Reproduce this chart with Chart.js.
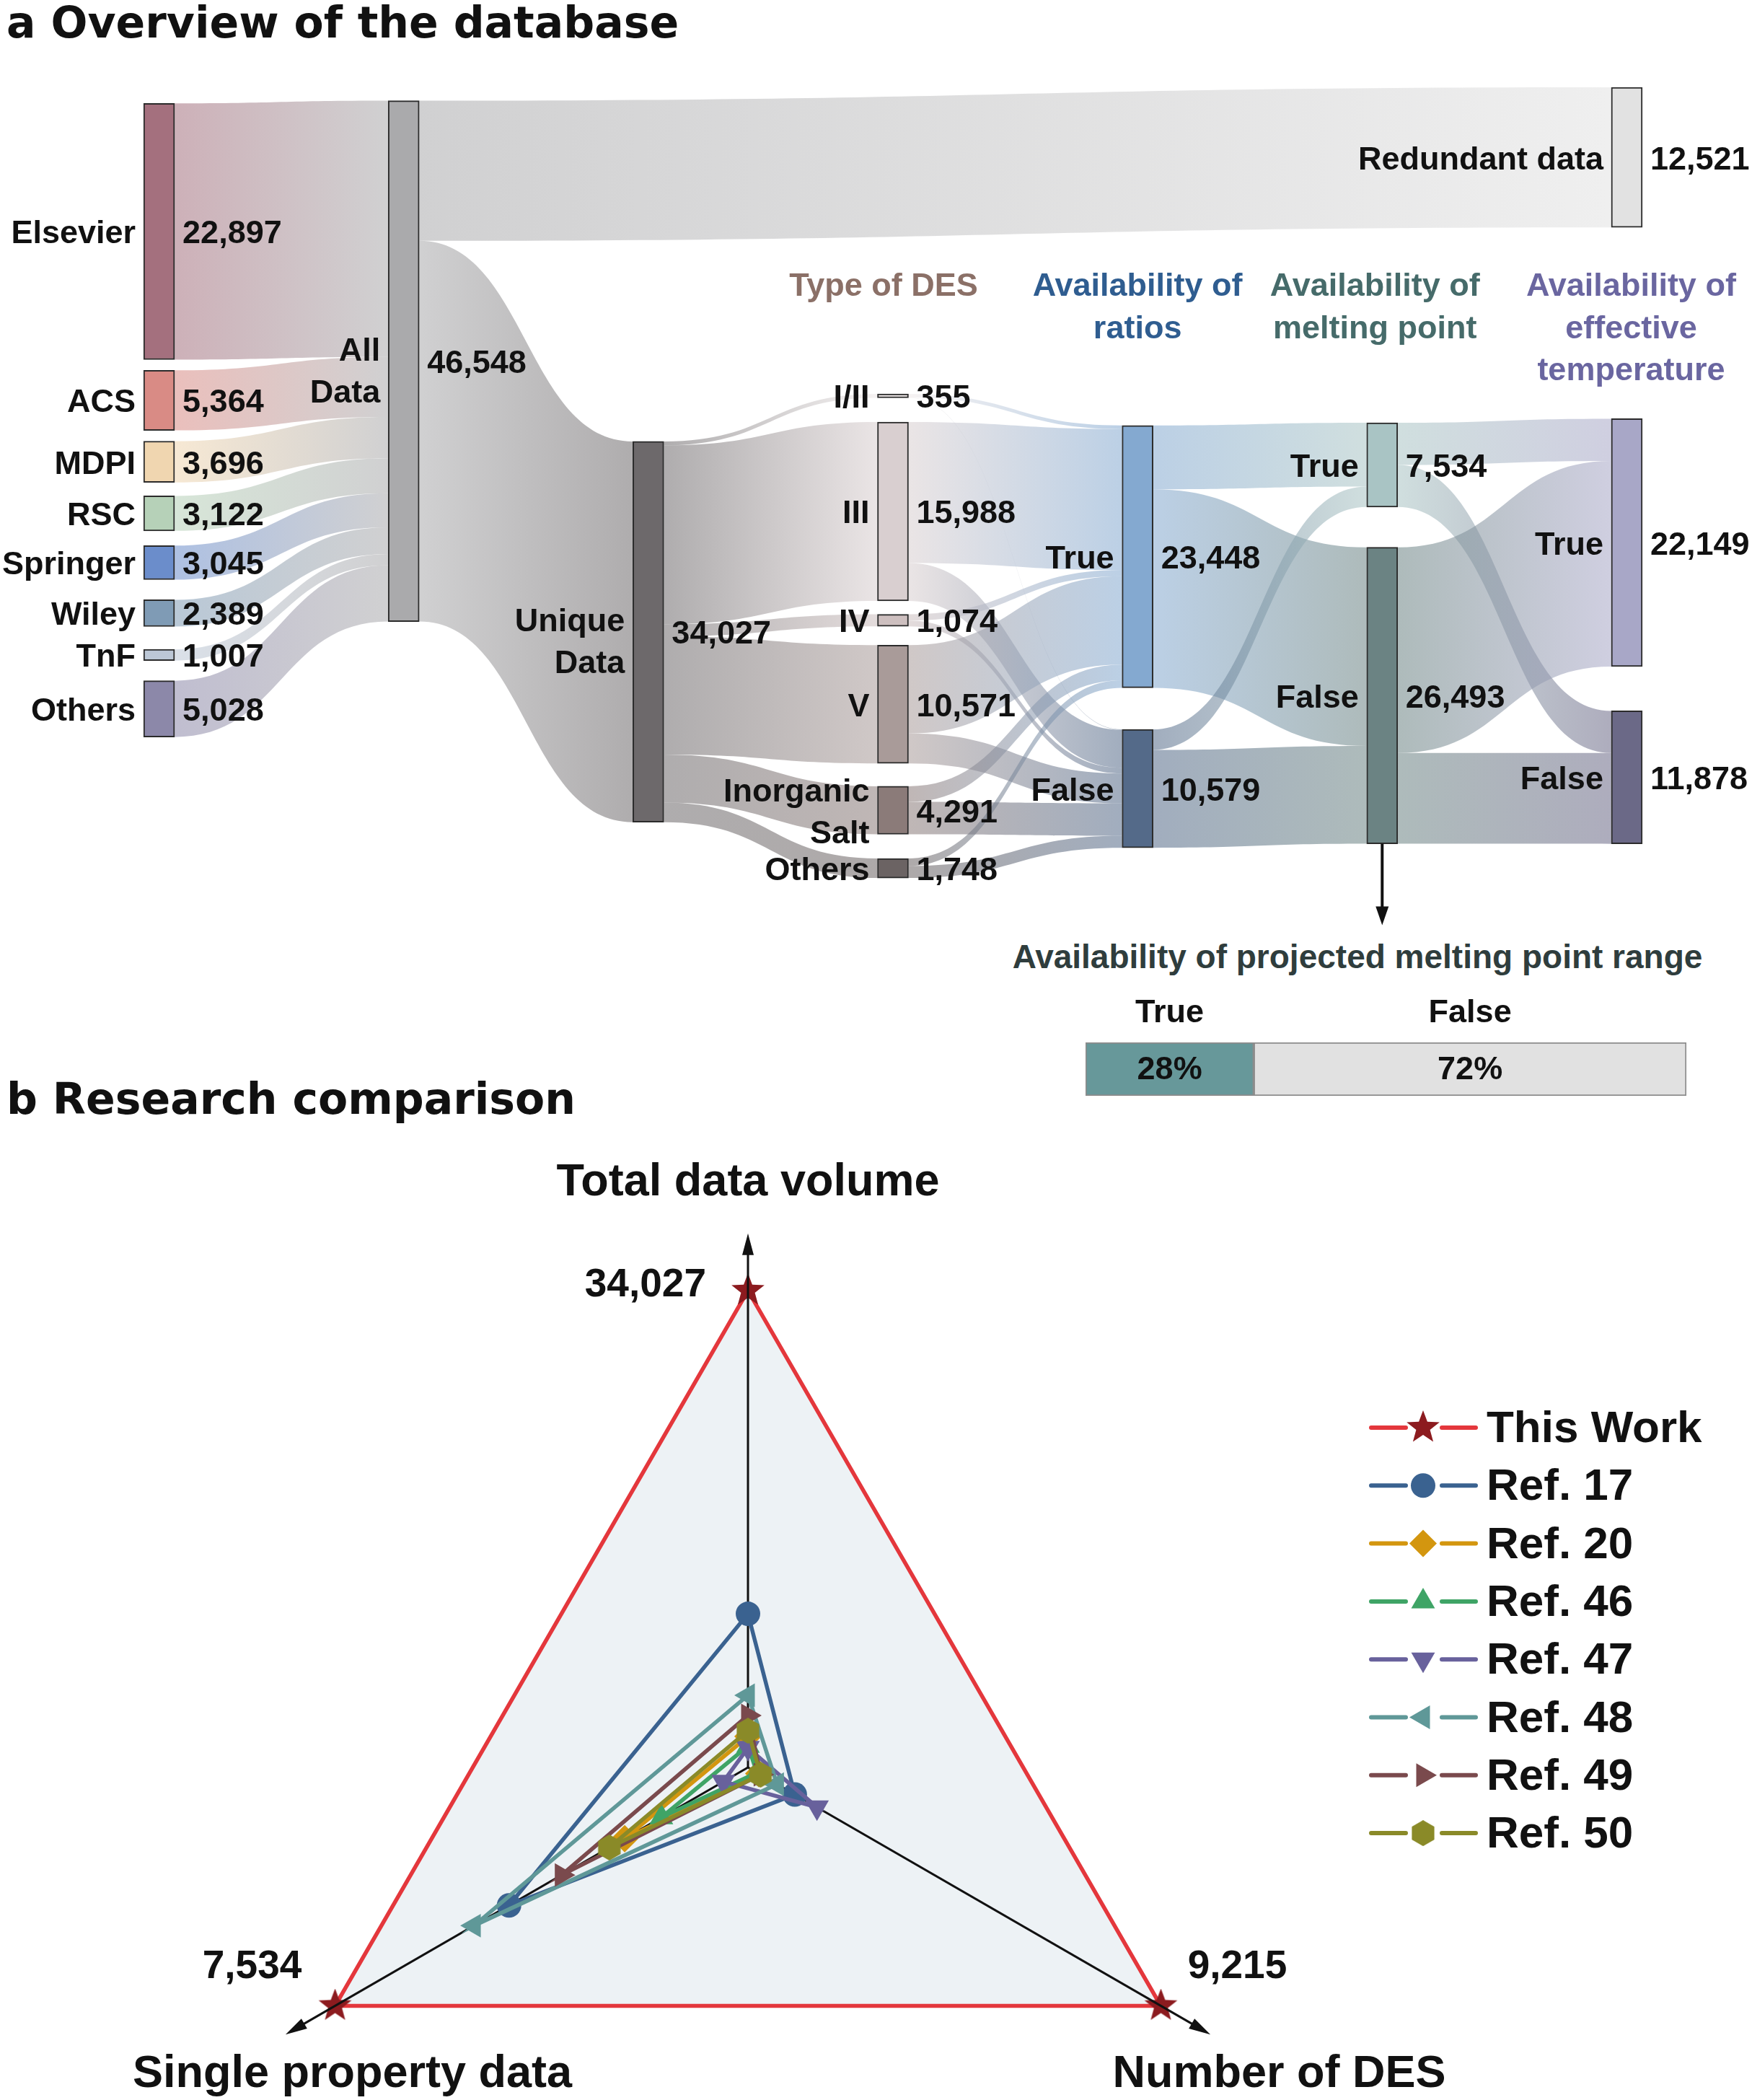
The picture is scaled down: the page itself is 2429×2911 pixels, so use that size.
<!DOCTYPE html>
<html>
<head>
<meta charset="utf-8">
<script src="https://cdn.jsdelivr.net/npm/chart.js@4.4.1/dist/chart.umd.min.js"></script>
<style>
  html, body { margin: 0; padding: 0; background: #fff; }
  body { width: 2429px; height: 2911px; overflow: hidden; position: relative; font-family: "Liberation Sans", Arial, sans-serif; }
  canvas { position: absolute; }
  .panel-title { position: absolute; left: 9px; font-family: "DejaVu Sans", sans-serif; font-weight: bold; font-size: 60px; line-height: 60px; color: #111; white-space: nowrap; }
  #projTitle { position: absolute; font-weight: bold; font-size: 46px; line-height: 50px; color: #2f3d3d; white-space: nowrap; transform: translateX(-50%); }
</style>
</head>
<body>
<div class="panel-title" style="top:1px">a Overview of the database</div>
<canvas id="sankeyChart" width="2429" height="1300" style="left:0;top:0"></canvas>
<div id="projTitle" style="left:1882px;top:1301px">Availability of projected melting point range</div>
<canvas id="rangeChart" width="835" height="140" style="left:1504px;top:1380px"></canvas>
<div class="panel-title" style="top:1493px">b Research comparison</div>
<canvas id="radarChart" width="2429" height="1581" style="left:0;top:1530px"></canvas>
<script>
// ---- panel a: database overview ----
const publishers = ['Elsevier', 'ACS', 'MDPI', 'RSC', 'Springer', 'Wiley', 'TnF', 'Others'];
const publisherCounts = [22897, 5364, 3696, 3122, 3045, 2389, 1007, 5028];
const allDataCount = 46548;
const dedupLabels = ['Redundant data', 'Unique\nData'];
const dedupCounts = [12521, 34027];
const desTypes = ['I/II', 'III', 'IV', 'V', 'Inorganic\nSalt', 'Others'];
const desCounts = [355, 15988, 1074, 10571, 4291, 1748];
const desToRatioTrue = [320, 12600, 560, 7900, 1400, 668];
const desToRatioFalse = [35, 3388, 514, 2671, 2891, 1080];
const flagLabels = ['True', 'False'];
const ratioCounts = [23448, 10579];
const ratioToMelt = [[5700, 17748], [1834, 8745]];   // [from True / False][to True, to False]
const meltCounts = [7534, 26493];
const meltToEff = [[3770, 3764], [18379, 8114]];
const effCounts = [22149, 11878];
const rangeLabels = ['True', 'False'];
const rangeShares = [28, 72];

// ---- panel b: research comparison ----
const radarAxes = ['Total data volume', 'Number of DES', 'Single property data'];
const axisMax = [34027, 9215, 7534];
const studies = ['This Work', 'Ref. 17', 'Ref. 20', 'Ref. 46', 'Ref. 47', 'Ref. 48', 'Ref. 49', 'Ref. 50'];
const thisWork = [34027, 9215, 7534];
const ref17 = [10960, 1045, 4360];
const ref20 = [2210, 240, 2250];
const ref46 = [1530, 200, 1580];
const ref47 = [1400, 1540, 450];
const ref48 = [5150, 650, 5000];
const ref49 = [3710, 280, 3400];
const ref50 = [2620, 280, 2530];

// colours
const publisherColors = ['#a4707e', '#d98b85', '#f0d6b0', '#b6d1b8', '#6b8dcb', '#7f9bb5', '#bcc7d6', '#8c88a9'];
const desColors = ['#efe9e9', '#d9cfd0', '#cdbfbf', '#a99b99', '#8b7b79', '#6b6363'];
const columnHeaders = [
  { col: 3, dx: -13, lines: ['Type of DES'], color: '#8b7067' },
  { col: 4, dx: 0, lines: ['Availability of', 'ratios'], color: '#2f5d90' },
  { col: 5, dx: -10, lines: ['Availability of', 'melting point'], color: '#466b6a' },
  { col: 6, dx: 6, lines: ['Availability of', 'effective', 'temperature'], color: '#6a66a0' }
];

// sankey layout: top of each column and gaps between its nodes (value units)
const colTop = [1440, 1200, 31650, 27400, 30220, 29980, 0];
const colGaps = [[960, 960, 1200, 1320, 1800, 2040, 1800], [], [], [2160, 1200, 1680, 2040, 2160], [3720], [3600], [17100, 3960]];

const fmt = v => v.toLocaleString('en-US');
const fade = (hex, a) => {
  const n = parseInt(hex.slice(1), 16);
  return 'rgba(' + (n >> 16) + ',' + ((n >> 8) & 255) + ',' + (n & 255) + ',' + a + ')';
};
const FONT = '"Liberation Sans", Arial, sans-serif';

// build nodes and links
const nodes = [], links = [], byId = {};
function addNode(id, col, label, value, color) {
  const n = { id, col, label, value, color, index: nodes.length, out: [], inc: [] };
  nodes.push(n); byId[id] = n;
}
function addLink(s, t, v) {
  const l = { s: byId[s], t: byId[t], v };
  links.push(l); l.s.out.push(l); l.t.inc.push(l);
}
publishers.forEach((p, i) => addNode('pub' + i, 0, p, publisherCounts[i], publisherColors[i]));
addNode('all', 1, 'All\nData', allDataCount, '#aaaaac');
addNode('red', 6, dedupLabels[0], dedupCounts[0], '#e2e2e2');
addNode('uni', 2, dedupLabels[1], dedupCounts[1], '#6d696b');
desTypes.forEach((d, i) => addNode('des' + i, 3, d, desCounts[i], desColors[i]));
addNode('ratio0', 4, flagLabels[0], ratioCounts[0], '#84a9d0');
addNode('ratio1', 4, flagLabels[1], ratioCounts[1], '#546a89');
addNode('melt0', 5, flagLabels[0], meltCounts[0], '#a9c4c4');
addNode('melt1', 5, flagLabels[1], meltCounts[1], '#6b8383');
addNode('eff0', 6, flagLabels[0], effCounts[0], '#a8a7c7');
addNode('eff1', 6, flagLabels[1], effCounts[1], '#6b6987');

publishers.forEach((p, i) => addLink('pub' + i, 'all', publisherCounts[i]));
addLink('all', 'red', dedupCounts[0]);
addLink('all', 'uni', dedupCounts[1]);
desTypes.forEach((d, i) => addLink('uni', 'des' + i, desCounts[i]));
desTypes.forEach((d, i) => {
  addLink('des' + i, 'ratio0', desToRatioTrue[i]);
  addLink('des' + i, 'ratio1', desToRatioFalse[i]);
});
[0, 1].forEach(a => [0, 1].forEach(b => addLink('ratio' + a, 'melt' + b, ratioToMelt[a][b])));
[0, 1].forEach(a => [0, 1].forEach(b => addLink('melt' + a, 'eff' + b, meltToEff[a][b])));

// stack nodes in their columns
for (let c = 0; c < 7; c++) {
  let y = colTop[c], k = 0;
  nodes.filter(n => n.col === c).forEach(n => {
    n.y0 = y; y += n.value + (colGaps[c][k++] || 0);
  });
}
nodes.forEach(n => {
  let o = 0;
  n.out.sort((a, b) => a.t.y0 - b.t.y0).forEach(l => { l.sOff = o; o += l.v; });
  o = 0;
  n.inc.sort((a, b) => a.s.y0 - b.s.y0).forEach(l => { l.tOff = o; o += l.v; });
});

function drawLines(ctx, text, x, y, gap) {
  const lines = text.split('\n');
  lines.forEach((ln, i) => ctx.fillText(ln, x, y + (i - (lines.length - 1) / 2) * gap));
}

const sankeyLinks = {
  id: 'sankeyLinks',
  beforeDatasetsDraw(chart) {
    const ctx = chart.ctx, y = chart.scales.y;
    ctx.save();
    links.forEach(l => {
      const a = chart.getDatasetMeta(l.s.index).data[0];
      const b = chart.getDatasetMeta(l.t.index).data[0];
      const x0 = a.x + a.width / 2, x1 = b.x - b.width / 2, xm = (x0 + x1) / 2;
      const s0 = y.getPixelForValue(l.s.y0 + l.sOff), s1 = y.getPixelForValue(l.s.y0 + l.sOff + l.v);
      const t0 = y.getPixelForValue(l.t.y0 + l.tOff), t1 = y.getPixelForValue(l.t.y0 + l.tOff + l.v);
      const g = ctx.createLinearGradient(x0, 0, x1, 0);
      g.addColorStop(0, fade(l.s.color, 0.55));
      g.addColorStop(1, fade(l.t.color, 0.55));
      ctx.fillStyle = g;
      ctx.beginPath();
      ctx.moveTo(x0, s0);
      ctx.bezierCurveTo(xm, s0, xm, t0, x1, t0);
      ctx.lineTo(x1, t1);
      ctx.bezierCurveTo(xm, t1, xm, s1, x0, s1);
      ctx.closePath();
      ctx.fill();
    });
    ctx.restore();
  },
  afterDatasetsDraw(chart) {
    const ctx = chart.ctx, y = chart.scales.y, x = chart.scales.x;
    ctx.save();
    ctx.font = 'bold 45px ' + FONT;
    ctx.fillStyle = '#111';
    ctx.textBaseline = 'middle';
    nodes.forEach(n => {
      const el = chart.getDatasetMeta(n.index).data[0];
      const cy = (y.getPixelForValue(n.y0) + y.getPixelForValue(n.y0 + n.value)) / 2 + 4;
      // the two big nodes carry their two-line names a little low
      const lift = n.value > 30000 && n.label.includes('\n') ? 12 : 0;
      ctx.textAlign = 'right';
      drawLines(ctx, n.label, el.x - el.width / 2 - 11, cy + lift, 58);
      ctx.textAlign = 'left';
      ctx.fillText(fmt(n.value), el.x + el.width / 2 + 11, cy);
    });
    ctx.textAlign = 'center';
    columnHeaders.forEach(h => {
      ctx.fillStyle = h.color;
      h.lines.forEach((ln, i) => ctx.fillText(ln, x.getPixelForValue(h.col) + h.dx, 398 + i * 58.5));
    });
    // arrow from the melting point "False" node to the range bar
    const m = byId.melt1, el = chart.getDatasetMeta(m.index).data[0];
    const top = y.getPixelForValue(m.y0 + m.value), tip = top + 113;
    ctx.strokeStyle = '#111'; ctx.fillStyle = '#111'; ctx.lineWidth = 4;
    ctx.beginPath(); ctx.moveTo(el.x, top); ctx.lineTo(el.x, tip - 20); ctx.stroke();
    ctx.beginPath(); ctx.moveTo(el.x - 9, tip - 26); ctx.lineTo(el.x + 9, tip - 26); ctx.lineTo(el.x, tip); ctx.closePath(); ctx.fill();
    ctx.restore();
  }
};

new Chart(document.getElementById('sankeyChart'), {
  type: 'bar',
  data: {
    labels: ['c0', 'c1', 'c2', 'c3', 'c4', 'c5', 'c6'],
    datasets: nodes.map(n => ({
      label: n.label,
      data: [{ x: 'c' + n.col, y: [n.y0, n.y0 + n.value] }],
      backgroundColor: n.color
    }))
  },
  options: {
    responsive: false, animation: false, devicePixelRatio: 1,
    layout: { padding: { left: 51, right: 4, top: 121, bottom: 70 } },
    plugins: { legend: { display: false }, tooltip: { enabled: false } },
    datasets: { bar: { grouped: false, barThickness: 43, borderSkipped: false, borderWidth: 2, borderColor: '#2b2b2b' } },
    scales: {
      x: { type: 'category', offset: true, display: false },
      y: { type: 'linear', reverse: true, min: 0, max: 71500, display: false }
    }
  },
  plugins: [sankeyLinks]
});

// projected melting point range bar
const rangeText = {
  id: 'rangeText',
  afterDatasetsDraw(chart) {
    const ctx = chart.ctx;
    ctx.save();
    ctx.font = 'bold 45px ' + FONT;
    ctx.fillStyle = '#111';
    ctx.textAlign = 'center'; ctx.textBaseline = 'middle';
    chart.data.datasets.forEach((ds, i) => {
      const el = chart.getDatasetMeta(i).data[0];
      const cx = (el.x + el.base) / 2;
      ctx.fillText(ds.label, cx, chart.chartArea.top - 40);
      ctx.fillText(ds.data[0] + '%', cx, el.y + 2);
    });
    ctx.restore();
  }
};
new Chart(document.getElementById('rangeChart'), {
  type: 'bar',
  data: {
    labels: ['range'],
    datasets: rangeLabels.map((l, i) => ({
      label: l, data: [rangeShares[i]],
      backgroundColor: ['#67989a', '#e1e1e1'][i],
      borderColor: '#8c8c8c', borderWidth: 2, borderSkipped: false
    }))
  },
  options: {
    indexAxis: 'y', responsive: false, animation: false, devicePixelRatio: 1,
    layout: { padding: { top: 65, left: 1, right: 1, bottom: 1 } },
    datasets: { bar: { barPercentage: 1, categoryPercentage: 1 } },
    plugins: { legend: { display: false }, tooltip: { enabled: false } },
    scales: {
      x: { stacked: true, min: 0, max: 100, display: false },
      y: { stacked: true, display: false }
    }
  },
  plugins: [rangeText]
});

// ---- radar ----
function starImage(r, color) {
  const c = document.createElement('canvas'); c.width = c.height = 2 * r;
  const g = c.getContext('2d'); g.fillStyle = color; g.beginPath();
  for (let k = 0; k < 10; k++) {
    const rad = k % 2 ? r * 0.42 : r, a = -Math.PI / 2 + k * Math.PI / 5;
    g.lineTo(r + rad * Math.cos(a), r + rad * Math.sin(a));
  }
  g.closePath(); g.fill();
  return c;
}
function hexImage(r, color) {
  const c = document.createElement('canvas'); c.width = c.height = 2 * r;
  const g = c.getContext('2d'); g.fillStyle = color; g.beginPath();
  for (let k = 0; k < 6; k++) {
    const a = -Math.PI / 2 + k * Math.PI / 3;
    g.lineTo(r + r * Math.cos(a), r + r * Math.sin(a));
  }
  g.closePath(); g.fill();
  return c;
}
const studyValues = [thisWork, ref17, ref20, ref46, ref47, ref48, ref49, ref50];
const studyStyles = [
  { color: '#e4373c', marker: '#8c1b1f', style: starImage(24, '#8c1b1f'), radius: 24, rotation: 0 },
  { color: '#3a6290', marker: '#3a6290', style: 'circle', radius: 17, rotation: 0 },
  { color: '#d3960f', marker: '#d3960f', style: 'rectRot', radius: 19, rotation: 0 },
  { color: '#3fa466', marker: '#3fa466', style: 'triangle', radius: 19, rotation: 0 },
  { color: '#68619c', marker: '#68619c', style: 'triangle', radius: 19, rotation: 180 },
  { color: '#5f9898', marker: '#5f9898', style: 'triangle', radius: 19, rotation: -90 },
  { color: '#7a4a4d', marker: '#7a4a4d', style: 'triangle', radius: 19, rotation: 90 },
  { color: '#8a8a28', marker: '#8a8a28', style: hexImage(18, '#8a8a28'), radius: 18, rotation: 0 }
];

const radarDecor = {
  id: 'radarDecor',
  afterDatasetDraw(chart, args) {
    if (args.index !== 0) return;
    const ctx = chart.ctx, r = chart.scales.r;
    ctx.save();
    ctx.strokeStyle = '#111'; ctx.fillStyle = '#111'; ctx.lineWidth = 3;
    for (let i = 0; i < radarAxes.length; i++) {
      const e = r.getPointPositionForValue(i, 1.12);
      const ang = Math.atan2(e.y - r.yCenter, e.x - r.xCenter);
      ctx.beginPath(); ctx.moveTo(r.xCenter, r.yCenter);
      ctx.lineTo(e.x - 20 * Math.cos(ang), e.y - 20 * Math.sin(ang)); ctx.stroke();
      ctx.beginPath();
      ctx.moveTo(e.x, e.y);
      ctx.lineTo(e.x - 30 * Math.cos(ang) + 8 * Math.sin(ang), e.y - 30 * Math.sin(ang) - 8 * Math.cos(ang));
      ctx.lineTo(e.x - 30 * Math.cos(ang) - 8 * Math.sin(ang), e.y - 30 * Math.sin(ang) + 8 * Math.cos(ang));
      ctx.closePath(); ctx.fill();
    }
    ctx.restore();
  },
  afterDraw(chart) {
    const ctx = chart.ctx, r = chart.scales.r;
    ctx.save();
    ctx.fillStyle = '#111';
    ctx.textBaseline = 'middle';
    const v = radarAxes.map((a, i) => r.getPointPositionForValue(i, 1));
    // axis names
    ctx.font = 'bold 63px ' + FONT; ctx.textAlign = 'center';
    ctx.fillText(radarAxes[0], v[0].x, v[0].y - 149);
    ctx.fillText(radarAxes[1], v[1].x + 164, v[1].y + 95);
    ctx.fillText(radarAxes[2], v[2].x + 24, v[2].y + 95);
    // maxima
    ctx.font = 'bold 55px ' + FONT;
    ctx.textAlign = 'right';
    ctx.fillText(fmt(axisMax[0]), v[0].x - 58, v[0].y - 7);
    ctx.textAlign = 'center';
    ctx.fillText(fmt(axisMax[1]), v[1].x + 106, v[1].y - 54);
    ctx.fillText(fmt(axisMax[2]), v[2].x - 115, v[2].y - 54);
    // legend
    const lx = chart.chartArea.right + 203, ly = 449;
    chart.data.datasets.forEach((ds, i) => {
      const st = studyStyles[i], y = ly + i * 80.3;
      ctx.strokeStyle = st.color; ctx.lineWidth = 6; ctx.lineCap = 'round';
      ctx.beginPath(); ctx.moveTo(lx, y); ctx.lineTo(lx + 48, y);
      ctx.moveTo(lx + 98, y); ctx.lineTo(lx + 145, y); ctx.stroke();
      ctx.fillStyle = st.marker;
      Chart.helpers.drawPoint(ctx, { pointStyle: st.style, rotation: st.rotation, radius: st.radius, borderWidth: 0 }, lx + 72, y);
      ctx.fillStyle = '#111';
      ctx.font = 'bold 62px ' + FONT; ctx.textAlign = 'left';
      ctx.fillText(ds.label, lx + 160, y + 3);
    });
    ctx.restore();
  }
};

new Chart(document.getElementById('radarChart'), {
  type: 'radar',
  data: {
    labels: radarAxes,
    datasets: studies.map((s, i) => ({
      label: s,
      data: studyValues[i].map((val, k) => val / axisMax[k]),
      borderColor: studyStyles[i].color,
      backgroundColor: i === 0 ? '#edf2f5' : 'transparent',
      fill: i === 0,
      borderWidth: 5.5,
      pointStyle: studyStyles[i].style,
      pointRadius: studyStyles[i].radius,
      pointRotation: studyStyles[i].rotation,
      pointBackgroundColor: studyStyles[i].marker,
      pointBorderColor: studyStyles[i].marker,
      pointBorderWidth: 0,
      order: i === 0 ? 1 : -i,
      clip: false
    }))
  },
  options: {
    responsive: false, animation: false, devicePixelRatio: 1,
    layout: { padding: { left: 376, right: 731, top: 259, bottom: 0 } },
    elements: { line: { tension: 0 } },
    plugins: { legend: { display: false }, tooltip: { enabled: false } },
    scales: {
      r: {
        min: 0, max: 1,
        ticks: { display: false },
        grid: { display: false },
        angleLines: { display: false },
        pointLabels: { display: false }
      }
    }
  },
  plugins: [radarDecor]
});
</script>
</body>
</html>
